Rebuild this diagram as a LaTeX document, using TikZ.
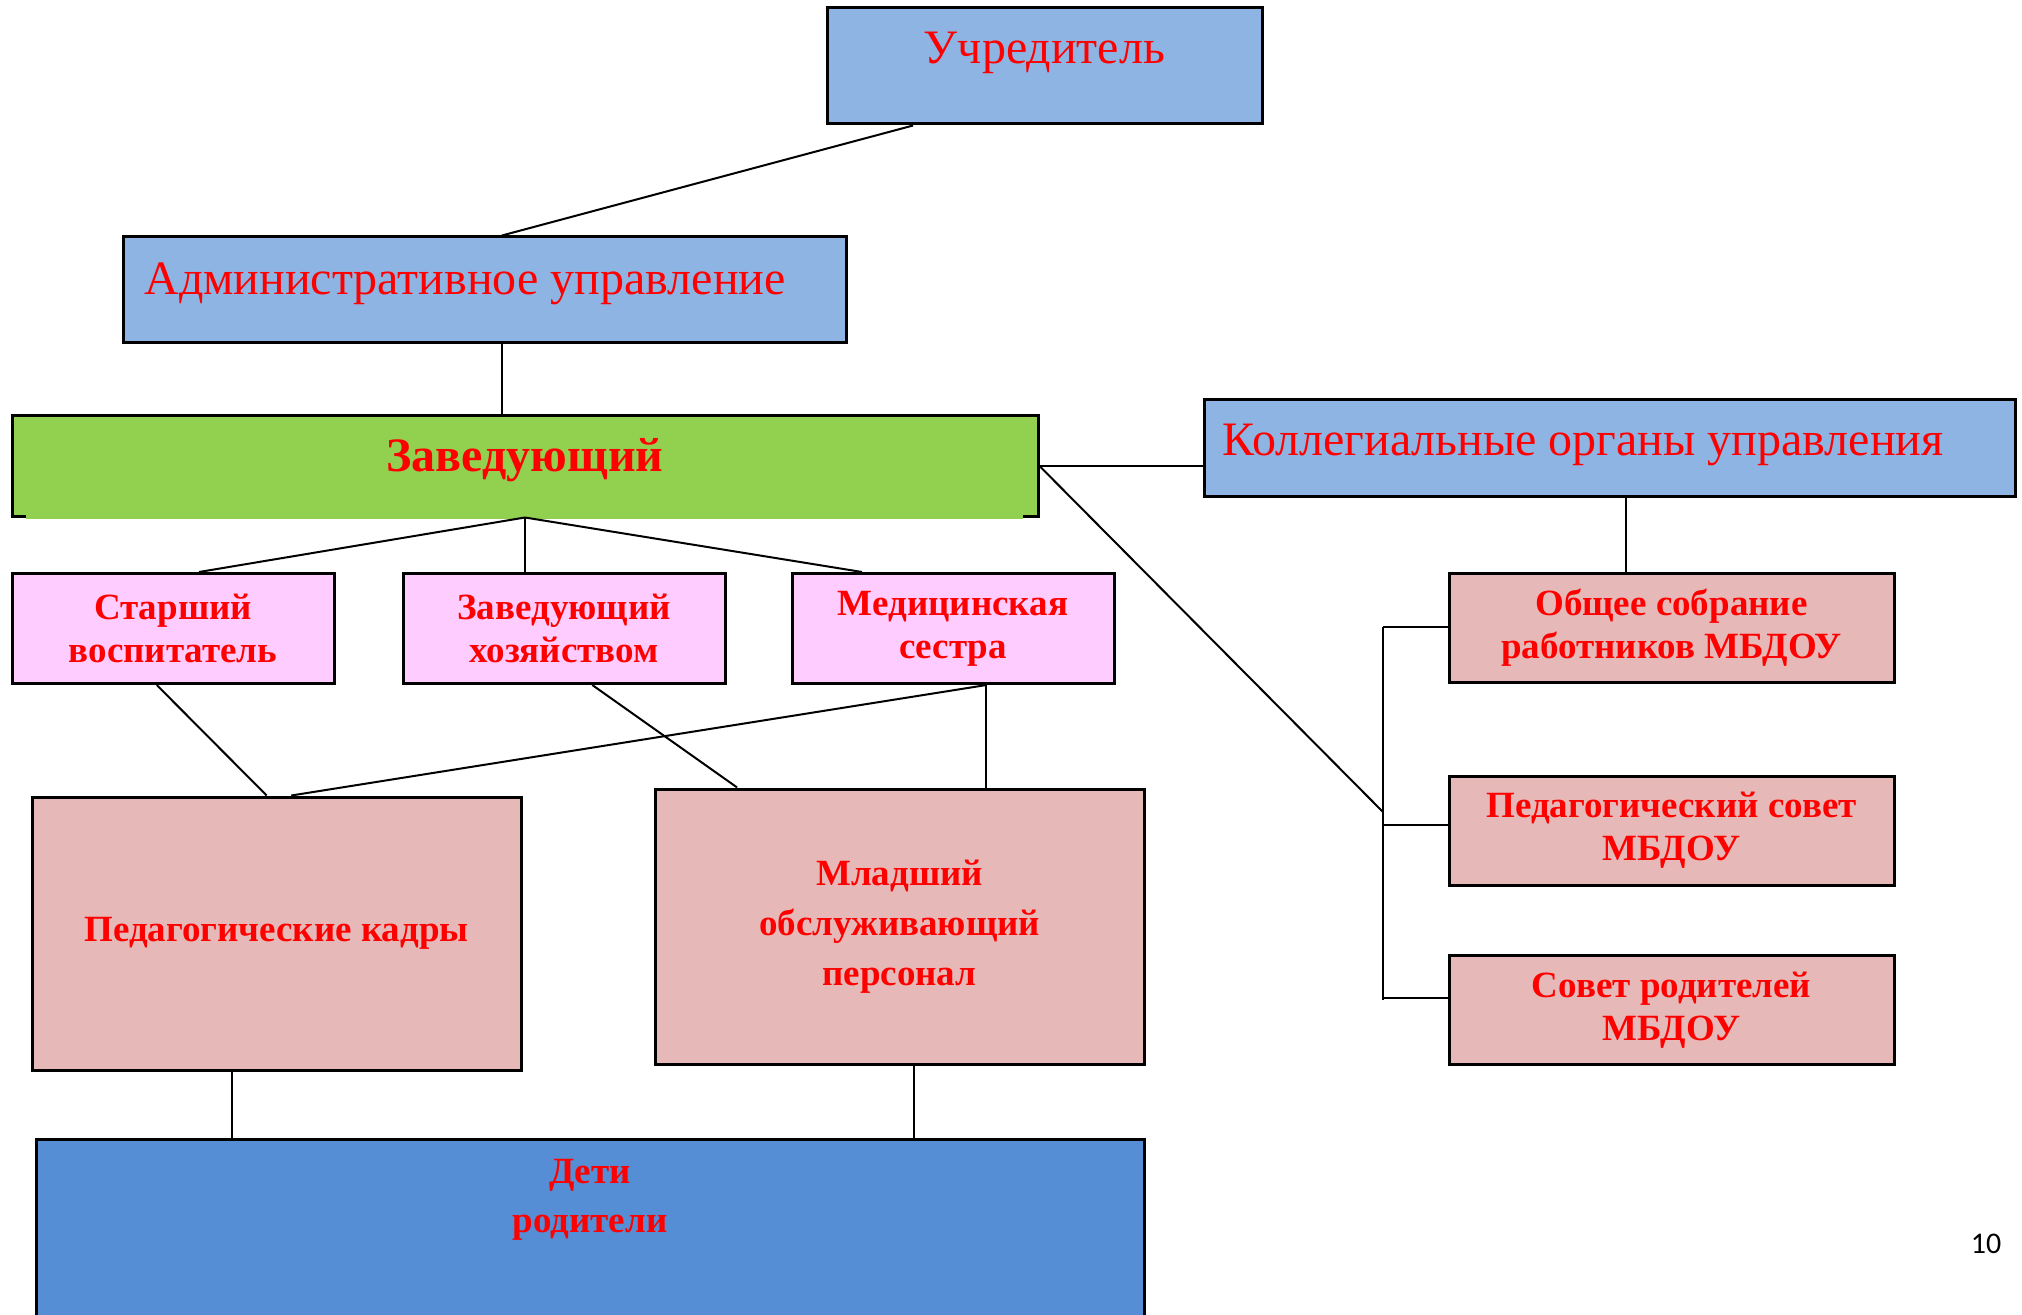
\documentclass[tikz,border=0pt]{standalone}
\usepackage{fontspec}
\setmainfont{Liberation Serif}
\newfontfamily\pagefont{Carlito}
\usetikzlibrary{calc}

\definecolor{boxblue}{HTML}{8EB4E3}
\definecolor{boxgreen}{HTML}{92D050}
\definecolor{boxpink}{HTML}{FFCCFF}
\definecolor{boxrose}{HTML}{E6B9B8}
\definecolor{boxdeep}{HTML}{558ED5}

\begin{document}
\begin{tikzpicture}[x=0.5pt,y=-0.5pt,
    box/.style={draw,line width=1.5pt,inner sep=0pt},
    conn/.style={draw,line width=1pt},
    toptext/.style={text=red,font=\fontsize{24}{28}\selectfont,inner sep=0pt},
    boldtext/.style={text=red,font=\fontsize{18.5}{21.5}\selectfont\bfseries,align=center}]

  \clip (0,0) rectangle (2022,1315);

  \begin{scope}[every node/.style={box,fill=boxblue}]
    \node[minimum width=217.5pt,minimum height=58pt]   (uchr) at (1044.5,66) {};
    \node[minimum width=361.5pt,minimum height=53pt]   (adm)  at (484.5,290) {};
    \node[minimum width=405.5pt,minimum height=48.5pt] (koll) at (1609.5,448) {};
  \end{scope}

  \begin{scope}[every node/.style={toptext,anchor=base}]
    \node                   (uchrtxt) at (1044.5,64) {Учредитель};
    \node[anchor=base west] (admtxt)  at (144,295)   {Административное управление};
    \node[anchor=base west] (kolltxt) at (1222,456)  {Коллегиальные органы управления};
  \end{scope}

  \node[box,fill=boxgreen,minimum width=513pt,minimum height=50pt,text depth=11pt,
        text=red,font=\fontsize{24}{28}\selectfont\bfseries] (zav) at (525,466) {Заведующий};
  \fill[boxgreen] (26,509) rectangle (1023,519);

  \begin{scope}[every node/.style={box,boldtext,fill=boxpink,minimum width=161pt,minimum height=55pt}]
    \node (sv)  at (173,628.5) {Старший\\воспитатель};
    \node (zh)  at (564,628.5) {Заведующий\\хозяйством};
    \node (med) at (953,628.5) {Медицинская\\сестра};
  \end{scope}

  \begin{scope}[every node/.style={box,boldtext,fill=boxrose,minimum width=222.5pt,minimum height=54.5pt}]
    \node (obsh)   at (1671.5,628)   {Общее собрание\\работников МБДОУ};
    \node (pedsov) at (1671.5,830.5) {Педагогический совет\\МБДОУ};
    \node (rod)    at (1671.5,1010)  {Совет родителей\\МБДОУ};
  \end{scope}

  \begin{scope}[every node/.style={box,boldtext,fill=boxrose,minimum width=244.5pt}]
    \node[minimum height=136.5pt] (kadry) at (276.5,933.5) {Педагогические кадры};
    \node[minimum height=137.5pt,font=\fontsize{18.5}{25}\selectfont\bfseries]
      (mlad) at (899.5,926.5) {Младший\\обслуживающий\\персонал};
  \end{scope}

  \node[box,fill=boxdeep,minimum width=554pt,minimum height=100pt] (deti) at (590,1239) {};
  \node[boldtext,anchor=north,inner sep=0pt,font=\fontsize{18.5}{24.5}\selectfont\bfseries]
    (detitxt) at (590,1159) {Дети\\родители};

  \node[font=\pagefont\fontsize{15}{18}\selectfont,anchor=base] (pagenum) at (1986,1253) {10};

  % points on the box edges
  \coordinate (uchrb)  at ($(uchr.south west)!0.2!(uchr.south east)$);
  \coordinate (admtop) at ($(adm.north west)!0.524!(adm.north east)$);
  \coordinate (admbot) at (admtop |- adm.south);
  \coordinate (svtop)  at ($(sv.north west)!0.58!(sv.north east)$);
  \coordinate (medtop) at ($(med.north west)!0.22!(med.north east)$);
  \coordinate (kollb)  at ($(koll.south west)!0.52!(koll.south east)$);
  \coordinate (svbot)  at ($(sv.south west)!0.45!(sv.south east)$);
  \coordinate (zhbot)  at ($(zh.south west)!0.587!(zh.south east)$);
  \coordinate (medbot) at ($(med.south west)!0.603!(med.south east)$);
  \coordinate (kadl)   at ($(kadry.north west)!0.48!(kadry.north east)$);
  \coordinate (kadr)   at ($(kadry.north west)!0.53!(kadry.north east)$);
  \coordinate (mladl)  at ($(mlad.north west)!0.17!(mlad.north east)$);
  \coordinate (kadbot) at ($(kadry.south west)!0.41!(kadry.south east)$);
  \coordinate (mladb)  at ($(mlad.south west)!0.53!(mlad.south east)$);
  \coordinate (brtop)  at (1383,627);
  \coordinate (brmid)  at (1383,812);
  \coordinate (brbot)  at (1383,1000);

  \begin{scope}[every edge/.style={conn}]
    \path (uchrb)  edge (admtop);
    \path (admbot) edge (admbot |- zav.north);
    \path (zav.east) edge (zav.east -| koll.west);
    \path (zav.south) edge (svtop);
    \path (zav.south) edge (zav.south |- zh.north);
    \path (zav.south) edge (medtop);
    \path (zav.east) edge (brmid);
    \path (kollb)  edge (kollb |- obsh.north);
    \path (brtop)  edge (brbot);
    \path (brtop)  edge (brtop -| obsh.west);
    \path ([yshift=3pt]pedsov.west) edge ([yshift=3pt]pedsov.west -| brtop);
    \path ([yshift=6pt]rod.west) edge ([yshift=6pt]rod.west -| brtop);
    \path (svbot)  edge (kadl);
    \path (zhbot)  edge (mladl);
    \path (medbot) edge (kadr);
    \path (medbot) edge (medbot |- mlad.north);
    \path (kadbot) edge (kadbot |- deti.north);
    \path (mladb)  edge (mladb |- deti.north);
  \end{scope}

\end{tikzpicture}
\end{document}
